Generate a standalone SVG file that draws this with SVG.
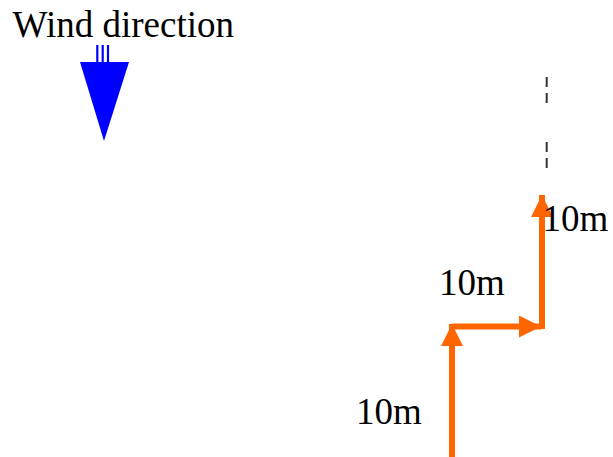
<svg xmlns="http://www.w3.org/2000/svg" width="613" height="457" viewBox="0 0 613 457">
<style>
text{font-family:'Liberation Serif','Times New Roman',serif;font-size:37px;fill:#000}
.or{stroke:#ff6600;stroke-width:6;fill:none}
</style>
<defs>
<marker id="ah" markerUnits="userSpaceOnUse" markerWidth="22" markerHeight="22" refX="22" refY="11" orient="auto">
<path d="M0,0 L22,11 L0,22 Z" fill="#ff6600"/>
</marker>
</defs>
<rect width="613" height="457" fill="#fff"/>
<g id="wind">
<text x="12.5" y="37">Wind direction</text>
<g stroke="#0000ff" stroke-width="2.2">
<line x1="97.3" y1="45" x2="97.3" y2="63"/>
<line x1="102.7" y1="45" x2="102.7" y2="63"/>
<line x1="108" y1="45" x2="108" y2="63"/>
</g>
<path d="M80,62 L129,62 L104,141 Z" fill="#0000ff"/>
</g>
<g id="connectors">
<line x1="546.7" y1="77" x2="546.7" y2="190" stroke="#333" stroke-width="2" stroke-dasharray="10 6 10 39"/>
<line class="or" x1="452" y1="457" x2="452" y2="324" marker-end="url(#ah)"/>
<polyline class="or" points="452,326.5 541,326.5" marker-end="url(#ah)"/>
<line class="or" x1="542" y1="329" x2="542" y2="195" marker-end="url(#ah)"/>
</g>
<g id="labels">
<text x="356" y="424">10m</text>
<text x="439" y="295">10m</text>
<text x="542.5" y="231">10m</text>
</g>
</svg>
